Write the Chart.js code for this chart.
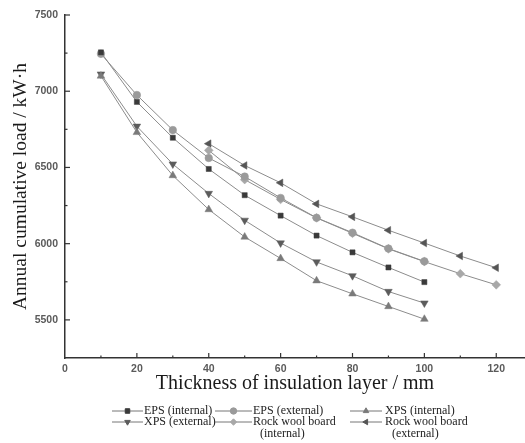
<!DOCTYPE html>
<html lang="en">
<head>
  <meta charset="UTF-8">
  <title>Annual cumulative load vs insulation thickness</title>
  <script src="https://cdn.jsdelivr.net/npm/chart.js"></script>
  <style>
    body { margin: 0; background: #ffffff; }
    #wrap { position: relative; width: 525px; height: 443px; }
  </style>
</head>
<body>
  <div id="wrap"><canvas id="loadChart"></canvas></div>

  <script>
    // thickness of insulation layer (mm)
    const thkShort = [10, 20, 30, 40, 50, 60, 70, 80, 90, 100];
    const thkRock = [40, 50, 60, 70, 80, 90, 100, 110, 120];

    // annual cumulative load (kW·h)
    const epsInternal = [7255, 6930, 6695, 6490, 6318, 6184, 6053, 5943, 5844, 5748];
    const epsExternal = [7245, 6975, 6745, 6562, 6440, 6300, 6170, 6072, 5968, 5884];
    const xpsInternal = [7100, 6730, 6447, 6224, 6044, 5903, 5757, 5671, 5588, 5505];
    const xpsExternal = [7112, 6770, 6522, 6329, 6153, 6004, 5880, 5789, 5686, 5610];
    const rockInternal = [6612, 6420, 6290, 6169, 6068, 5966, 5882, 5803, 5730];
    const rockExternal = [6656, 6513, 6399, 6261, 6176, 6088, 6004, 5919, 5842];

    const legendLabels = [
      ['EPS (internal)'], ['EPS (external)'], ['XPS (internal)'],
      ['XPS (external)'], ['Rock wool board', '(internal)'], ['Rock wool board', '(external)']
    ];

    const yTicksLabelled = [5500, 6000, 6500, 7000, 7500];
    const xTicksLabelled = [0, 20, 40, 60, 80, 100, 120];

    const pts = (xs, ys) => xs.map((x, i) => ({ x: x, y: ys[i] }));

    function series(i, xs, ys, style, color, rotation, radius) {
      return {
        label: legendLabels[i].join(' '),
        data: pts(xs, ys),
        borderColor: '#8c8c8c',
        borderWidth: 1,
        pointStyle: style,
        pointRotation: rotation || 0,
        pointRadius: radius || 4,
        pointBackgroundColor: color,
        pointBorderColor: color,
        pointBorderWidth: 0.5,
        tension: 0
      };
    }

    // inward tick marks + legend with two-line labels
    const extras = {
      id: 'extras',
      afterDraw(chart) {
        const { ctx } = chart;
        const x = chart.scales.x, y = chart.scales.y;
        ctx.save();
        ctx.strokeStyle = '#333';
        ctx.lineWidth = 1.2;
        x.ticks.forEach(t => {
          if (t.value === 0) return;
          const px = x.getPixelForValue(t.value);
          const len = xTicksLabelled.includes(t.value) ? 5 : 2.5;
          ctx.beginPath(); ctx.moveTo(px, x.top); ctx.lineTo(px, x.top - len); ctx.stroke();
        });
        y.ticks.forEach(t => {
          if (t.value === y.min) return;
          const py = y.getPixelForValue(t.value);
          const len = yTicksLabelled.includes(t.value) ? 5 : 2.5;
          ctx.beginPath(); ctx.moveTo(y.right, py); ctx.lineTo(y.right + len, py); ctx.stroke();
        });

        // legend, 3 columns x 2 rows
        const cols = [{ l0: 112, l1: 143, tx: 144 }, { l0: 215, l1: 252, tx: 253 }, { l0: 350, l1: 382, tx: 385 }];
        const rows = [411, 422];
        ctx.font = '12px "Liberation Serif", serif';
        ctx.textBaseline = 'middle';
        ctx.textAlign = 'left';
        chart.data.datasets.forEach((ds, i) => {
          const c = cols[i % 3], ry = rows[Math.floor(i / 3)];
          ctx.strokeStyle = '#777';
          ctx.lineWidth = 1;
          ctx.beginPath(); ctx.moveTo(c.l0, ry); ctx.lineTo(c.l1, ry); ctx.stroke();
          ctx.fillStyle = ds.pointBackgroundColor;
          ctx.strokeStyle = ds.pointBorderColor;
          Chart.helpers.drawPoint(ctx, {
            pointStyle: ds.pointStyle, rotation: ds.pointRotation,
            radius: 3.2, borderWidth: 0.5
          }, (c.l0 + c.l1) / 2, ry);
          ctx.fillStyle = '#222';
          legendLabels[i].forEach((line, k) => {
            ctx.fillText(line, c.tx + (k ? 7 : 0), ry + k * 11.5);
          });
        });
        ctx.restore();
      }
    };

    const chart = new Chart(document.getElementById('loadChart'), {
      type: 'line',
      data: {
        datasets: [
          series(0, thkShort, epsInternal, 'rect', '#3a3a3a', 0, 3.6),
          series(1, thkShort, epsExternal, 'circle', '#9a9a9a', 0, 3.8),
          series(2, thkShort, xpsInternal, 'triangle', '#7a7a7a', 0, 4.4),
          series(3, thkShort, xpsExternal, 'triangle', '#5c5c5c', 180, 4.4),
          series(4, thkRock, rockInternal, 'rectRot', '#a8a8a8', 0, 4.4),
          series(5, thkRock, rockExternal, 'triangle', '#555555', 270, 4.4)
        ]
      },
      options: {
        responsive: true,
        maintainAspectRatio: false,
        animation: false,
        layout: { autoPadding: false, padding: { top: 15, right: 0, left: 0, bottom: 0 } },
        plugins: {
          legend: { display: false },
          tooltip: { enabled: false }
        },
        scales: {
          x: {
            type: 'linear',
            min: 0,
            max: 128,
            afterBuildTicks: s => {
              s.ticks = [0, 10, 20, 30, 40, 50, 60, 70, 80, 90, 100, 110, 120].map(v => ({ value: v }));
            },
            afterFit: s => { s.height = 85; },
            grid: { display: false, drawTicks: false },
            border: { display: true, color: '#333', width: 1.5 },
            ticks: {
              padding: 5,
              color: '#5a5a5a',
              font: { family: '"Liberation Sans", Arial, sans-serif', size: 10.5, weight: 'bold' },
              maxRotation: 0,
              autoSkip: false,
              callback: v => xTicksLabelled.includes(v) ? String(v) : ''
            },
            title: {
              display: true,
              text: 'Thickness of insulation layer / mm',
              color: '#1a1a1a',
              font: { family: '"Liberation Serif", "Times New Roman", serif', size: 20 },
              padding: { top: 0, bottom: 47 }
            }
          },
          y: {
            min: 5250,
            max: 7500,
            afterBuildTicks: s => {
              const t = [];
              for (let v = 5250; v <= 7500; v += 250) t.push({ value: v });
              s.ticks = t;
            },
            afterFit: s => { s.width = 65; },
            grid: { display: false, drawTicks: false },
            border: { display: true, color: '#333', width: 1.5 },
            ticks: {
              padding: 7,
              color: '#5a5a5a',
              font: { family: '"Liberation Sans", Arial, sans-serif', size: 10.5, weight: 'bold' },
              autoSkip: false,
              callback: v => yTicksLabelled.includes(v) ? String(v) : ''
            },
            title: {
              display: true,
              text: 'Annual cumulative load / kW·h',
              color: '#1a1a1a',
              font: { family: '"Liberation Serif", "Times New Roman", serif', size: 19.5 },
              padding: { top: 9, bottom: 0 }
            }
          }
        }
      },
      plugins: [extras]
    });
  </script>
</body>
</html>
